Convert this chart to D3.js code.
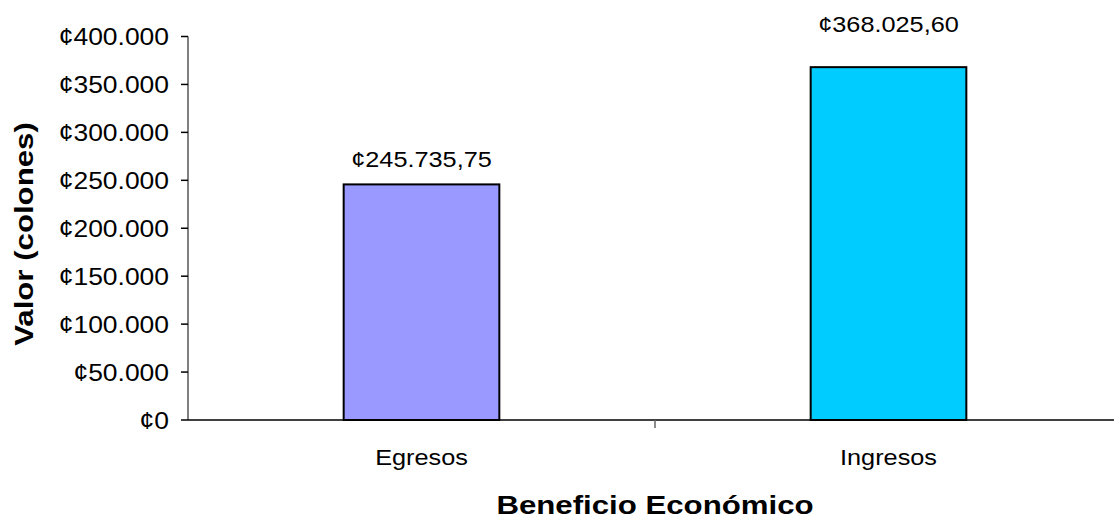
<!DOCTYPE html>
<html><head><meta charset="utf-8">
<script src="https://cdn.jsdelivr.net/npm/d3@7"></script>
<style>body{margin:0;background:#fff}text{font-family:"Liberation Sans",Arial,sans-serif;fill:#000}</style>
</head><body><svg id="c" width="1114" height="523"></svg>
<script>
const categories = ["Egresos", "Ingresos"];
const values = [245735.75, 368025.60];
const barColors = ["#9999FF", "#00CCFF"];
const yTicks = [0, 50000, 100000, 150000, 200000, 250000, 300000, 350000, 400000];
const labelOffsets = [17, 35];

const svg = d3.select("#c");
const m = {left: 188, top: 36.5, bottom: 420, right: 1122};
const x = d3.scaleBand().domain(categories).range([m.left, m.right]).paddingInner(2/3).paddingOuter(1/3);
const y = d3.scaleLinear().domain([0, 400000]).range([m.bottom, m.top]);

const loc = d3.formatLocale({decimal: ",", thousands: ".", grouping: [3], currency: ["¢", ""]});
const fInt = loc.format("$,.0f");
const fDec = loc.format("$,.2f");

function stretchedText(g, tx, ty, str, size, anchor, bold, rotate, sx) {
  const t = g.append("g").attr("transform", `translate(${tx},${ty})` + (rotate ? ` rotate(${rotate})` : "") + ` scale(${sx || 1.15},1)`)
    .append("text").attr("text-anchor", anchor).attr("font-size", size).text(str);
  if (bold) t.attr("font-weight", "bold");
  return t;
}

// bars
svg.selectAll("rect.bar").data(values).join("rect").attr("class", "bar")
  .attr("x", (d, i) => x(categories[i])).attr("width", x.bandwidth())
  .attr("y", d => y(d)).attr("height", d => y(0) - y(d))
  .attr("fill", (d, i) => barColors[i]).attr("stroke", "#000").attr("stroke-width", 2);

// y axis
svg.append("line").attr("x1", m.left).attr("x2", m.left).attr("y1", y(400000)).attr("y2", y(0)).attr("stroke", "#808080").attr("stroke-width", 2);
const yg = svg.append("g");
yTicks.forEach(t => {
  yg.append("line").attr("x1", m.left - 7).attr("x2", m.left).attr("y1", y(t)).attr("y2", y(t)).attr("stroke", "#000").attr("stroke-width", 1.5);
  stretchedText(yg, m.left - 19, y(t) + 8.5, fInt(t), 23, "end", false);
});

// x axis
svg.append("line").attr("x1", m.left).attr("x2", 1114).attr("y1", y(0)).attr("y2", y(0)).attr("stroke", "#000").attr("stroke-width", 1.5);
const mid = (x(categories[0]) + x.bandwidth() / 2 + x(categories[1]) + x.bandwidth() / 2) / 2;
svg.append("line").attr("x1", mid).attr("x2", mid).attr("y1", y(0)).attr("y2", y(0) + 8).attr("stroke", "#666").attr("stroke-width", 1.5);
categories.forEach(c => stretchedText(svg, x(c) + x.bandwidth() / 2, 465, c, 22, "middle", false));

// data labels
values.forEach((v, i) => stretchedText(svg, x(categories[i]) + x.bandwidth() / 2, y(v) - labelOffsets[i], fDec(v), 22, "middle", false));

// titles
stretchedText(svg, mid, 514, "Beneficio Económico", 26, "middle", true, 0, 1.2);
stretchedText(svg, 33, 234, "Valor (colones)", 26, "middle", true, -90, 1.2);
</script></body></html>
